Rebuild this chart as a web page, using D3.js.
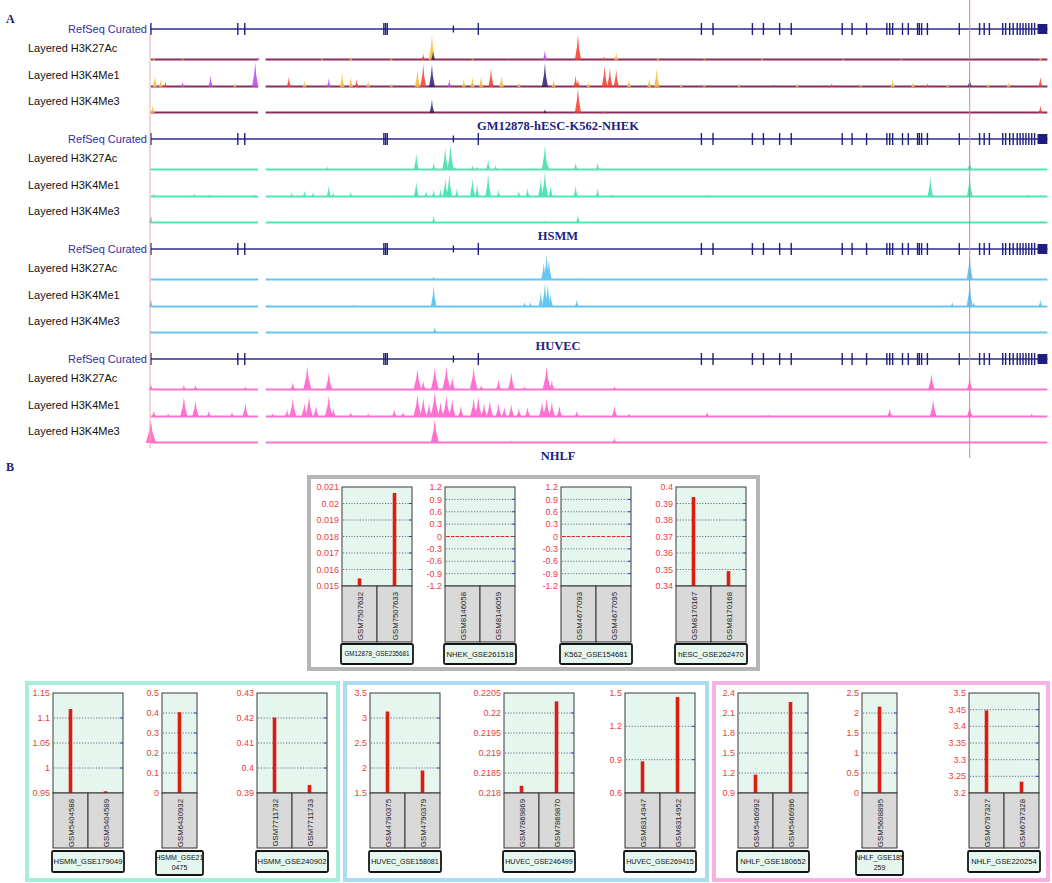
<!DOCTYPE html>
<html>
<head>
<meta charset="utf-8">
<script src="https://cdn.jsdelivr.net/npm/d3@7"></script>
<style>
  body { margin: 0; background: #fff; }
  svg { display: block; font-family: "Liberation Sans", Arial, sans-serif; }
</style>
</head>
<body>
<div id="fig"></div>
<script>
// ---------- panel A data (positions along the locus, arbitrary units 0..1560) ----------
const cellLines = ["GM12878-hESC-K562-NHEK", "HSMM", "HUVEC", "NHLF"];
const markLabels = ["Layered H3K27Ac", "Layered H3K4Me1", "Layered H3K4Me3"];
const geneSpan = [5, 1552];
const exons = [5, 155, 167, 407, 410, 413, 527, 570, 955, 975, 1043, 1062, 1090, 1110, 1198, 1215, 1240,
  1275, 1280, 1285, 1302, 1312, 1328, 1331, 1335, 1345, 1400, 1435, 1443, 1452, 1475, 1480, 1487,
  1493, 1500, 1505, 1510, 1515, 1520, 1525, 1530];
const shortExons = [527];
const geneEndBlock = [1535, 1552];
const coveredSpans = [[5, 190], [203, 1552]];
const markerPos = 1418;

// layered (mixed colour) tracks: [pos, height 0..1, colour key]
const mixK27 = [[10,0.08,"o"],[60,0.05,"o"],[190,0.12,"p"],[300,0.06,"o"],[350,0.12,"o"],[420,0.08,"o"],[475,0.25,"r"],
  [490,1.0,"o"],[492,0.35,"n"],[560,0.06,"o"],[620,0.06,"r"],[685,0.4,"p"],[742,1.0,"r"],[787,0.15,"r"],[808,0.3,"o"],
  [880,0.1,"o"],[960,0.06,"o"],[1060,0.06,"o"],[1200,0.05,"o"],[1300,0.05,"o"],[1418,0.08,"n"],[1540,0.1,"o"]];
const mixK4me1 = [[12,0.45,"o"],[22,0.3,"o"],[30,0.2,"r"],[60,0.2,"p"],[108,0.45,"p"],[150,0.12,"o"],[185,1.0,"p"],
  [243,0.4,"r"],[270,0.25,"o"],[312,0.35,"p"],[335,0.55,"o"],[350,0.4,"o"],[360,0.3,"r"],[380,0.25,"o"],[420,0.15,"o"],
  [465,0.7,"o"],[475,0.9,"r"],[490,0.9,"n"],[520,0.3,"p"],[545,0.3,"o"],[560,0.4,"o"],[575,0.45,"o"],[592,0.75,"r"],
  [610,0.45,"o"],[640,0.2,"o"],[685,0.95,"n"],[700,0.3,"o"],[738,0.45,"r"],[742,0.3,"r"],[760,0.2,"o"],[788,0.85,"r"],
  [797,0.75,"r"],[808,0.7,"r"],[830,0.3,"o"],[865,0.35,"o"],[878,0.75,"o"],[920,0.12,"o"],[960,0.1,"o"],[1020,0.1,"o"],
  [1080,0.1,"b"],[1120,0.12,"o"],[1180,0.15,"r"],[1230,0.1,"o"],[1285,0.3,"o"],[1320,0.2,"o"],[1345,0.15,"r"],
  [1380,0.15,"o"],[1418,0.35,"n"],[1450,0.15,"o"],[1485,0.2,"o"],[1540,0.4,"r"]];
const mixK4me3 = [[8,0.3,"o"],[490,0.55,"n"],[685,0.15,"n"],[742,1.0,"r"],[788,0.08,"r"],[1540,0.3,"r"]];

// single colour tracks: [pos, height 0..1, optional half width]
const hsmmK27 = [[5,0.05],[310,0.15],[463,0.65],[493,0.3],[513,0.9],[522,1.0],[530,0.15],[560,0.2],[568,0.15],
  [587,0.4],[600,0.2],[660,0.1],[685,1.0],[690,0.25],[738,0.3],[776,0.3],[1352,0.05],[1418,0.4]];
const hsmmK4me1 = [[10,0.15],[80,0.15],[105,0.1],[185,0.1],[248,0.2],[270,0.25],[285,0.2],[312,0.45],[320,0.2],
  [350,0.2],[463,0.6],[480,0.25],[493,0.3],[505,0.3],[513,0.75],[520,0.9],[533,0.35],[560,0.75],[568,0.5],[587,0.9],
  [605,0.3],[640,0.25],[655,0.35],[678,0.75],[685,1.0],[695,0.45],[738,0.45],[776,0.35],[800,0.1],[965,0.1],
  [1155,0.08],[1350,0.8],[1418,0.85],[1520,0.1],[1540,0.1]];
const hsmmK4me3 = [[5,0.35],[493,0.3],[685,0.1],[742,0.35],[1418,0.15],[1540,0.1]];

const huvecK27 = [[493,0.15],[683,0.7],[688,1.0],[692,0.8],[740,0.05],[1418,1.0],[1540,0.05]];
const huvecK4me1 = [[5,0.35],[355,0.1],[493,0.85],[650,0.2],[660,0.2],[678,0.6],[685,0.95],[690,0.9],[695,0.5],
  [740,0.3],[1388,0.2],[1418,1.0],[1425,0.2],[1540,0.3]];
const huvecK4me3 = [[5,0.1],[495,0.25],[685,0.08],[1418,0.15],[1540,0.1]];

const nhlfK27 = [[5,0.25],[62,0.2],[82,0.2],[168,0.15],[250,0.3],[275,0.95],[312,0.7],[465,0.85],[475,0.35],
  [495,0.9],[515,0.95],[525,0.5],[562,0.9],[575,0.2],[605,0.4],[627,0.7],[650,0.15],[688,0.95],[697,0.4],
  [805,0.15],[830,0.05],[1352,0.65],[1418,0.5]];
const nhlfK4me1 = [[10,0.25],[35,0.15],[62,0.8],[82,0.65],[105,0.25],[145,0.2],[168,0.55],[215,0.15],[240,0.3],
  [250,0.75],[270,0.55],[278,0.8],[290,0.45],[312,0.85],[320,0.35],[350,0.2],[380,0.15],[425,0.3],[440,0.2],
  [465,0.9],[475,0.75],[485,0.55],[495,1.0],[505,0.6],[515,0.85],[525,0.7],[540,0.45],[562,0.75],[570,0.8],
  [580,0.55],[590,0.65],[605,0.55],[615,0.4],[627,0.5],[640,0.35],[655,0.4],[680,0.6],[688,0.75],[697,0.6],
  [710,0.45],[740,0.25],[805,0.45],[830,0.15],[965,0.2],[1070,0.1],[1280,0.35],[1355,0.7],[1418,0.45],[1525,0.15]];
const nhlfK4me3 = [[5,0.9,9],[60,0.05],[168,0.05],[495,0.95],[565,0.05],[627,0.1],[805,0.2],[1352,0.05],[1418,0.1]];

const trackSets = [
  [mixK27, mixK4me1, mixK4me3],
  [hsmmK27, hsmmK4me1, hsmmK4me3],
  [huvecK27, huvecK4me1, huvecK4me3],
  [nhlfK27, nhlfK4me1, nhlfK4me3]
];

// ---------- panel B data ----------
const datasetNames = ["GM12878_GSE235681", "NHEK_GSE261518", "K562_GSE154681", "hESC_GSE262470",
  "HSMM_GSE179049", "HSMM_GSE210475", "HSMM_GSE240902",
  "HUVEC_GSE158081", "HUVEC_GSE246499", "HUVEC_GSE269415",
  "NHLF_GSE180652", "NHLF_GSE185259", "NHLF_GSE220254"];
// where the narrow (one sample) name boxes wrap their text
const nameWrapAt = { "HSMM_GSE210475": 10, "NHLF_GSE185259": 11 };
const sampleIds = [["GSM7507632","GSM7507633"],["GSM8146058","GSM8146059"],["GSM4677093","GSM4677095"],
  ["GSM8170167","GSM8170168"],["GSM5404588","GSM5404589"],["GSM6430932"],["GSM7711732","GSM7711733"],
  ["GSM4790375","GSM4790379"],["GSM7869869","GSM7869870"],["GSM8314947","GSM8314952"],
  ["GSM5466992","GSM5466996"],["GSM5608895"],["GSM6797327","GSM6797328"]];
const sampleValues = [[0.01546, 0.02064], [0, 0], [0, 0], [0.3939, 0.349], [1.118, 0.9534], [0.404],
  [0.4202, 0.3932], [3.13, 1.95], [0.21818, 0.22029], [0.885, 1.464], [1.175, 2.265], [2.16], [3.448, 3.234]];
const yTickValues = [
  [0.015, 0.016, 0.017, 0.018, 0.019, 0.02, 0.021],
  [-1.2, -0.9, -0.6, -0.3, 0, 0.3, 0.6, 0.9, 1.2],
  [-1.2, -0.9, -0.6, -0.3, 0, 0.3, 0.6, 0.9, 1.2],
  [0.34, 0.35, 0.36, 0.37, 0.38, 0.39, 0.4],
  [0.95, 1, 1.05, 1.1, 1.15],
  [0, 0.1, 0.2, 0.3, 0.4, 0.5],
  [0.39, 0.4, 0.41, 0.42, 0.43],
  [1.5, 2, 2.5, 3, 3.5],
  [0.218, 0.2185, 0.219, 0.2195, 0.22, 0.2205],
  [0.6, 0.9, 1.2, 1.5],
  [0.9, 1.2, 1.5, 1.8, 2.1, 2.4],
  [0, 0.5, 1, 1.5, 2, 2.5],
  [3.2, 3.25, 3.3, 3.35, 3.4, 3.45, 3.5]
];

// ---------- layout ----------
const W = 1052, H = 883;
const svg = d3.select("#fig").append("svg").attr("width", W).attr("height", H);

const pos = d3.scaleLinear().domain([0, 1560]).range([148, 1052]);
const mixColors = { o: "#f9b835", r: "#f2392c", p: "#b946ee", n: "#2b1b6e", b: "#3a46d8" };
const blockColors = [null, "#52e3b8", "#62c8f3", "#ff72cf"];
const trackOffsets = [31, 58, 84];
const trackH = 25;

svg.append("text").attr("x", 6).attr("y", 23)
  .attr("font-family", "Liberation Serif, serif").attr("font-weight", "bold")
  .attr("font-size", 12).attr("fill", "#1c1c6e").text("A");
svg.append("text").attr("x", 6).attr("y", 471)
  .attr("font-family", "Liberation Serif, serif").attr("font-weight", "bold")
  .attr("font-size", 12).attr("fill", "#1c1c6e").text("B");

cellLines.forEach((name, i) => {
  const gy = 29 + 110 * i;
  const g = svg.append("g");

  g.append("text").attr("x", 147).attr("y", gy + 4).attr("text-anchor", "end")
    .attr("font-size", 11).attr("fill", "#2e2e9e").text("RefSeq Curated");

  g.append("line")
    .attr("x1", pos(geneSpan[0])).attr("x2", pos(geneSpan[1]))
    .attr("y1", gy).attr("y2", gy)
    .attr("stroke", "#2c2c8c").attr("stroke-width", 1.3);

  g.selectAll(".exon").data(exons).join("line")
    .attr("x1", d => pos(d)).attr("x2", d => pos(d))
    .attr("y1", d => gy - (shortExons.includes(d) ? 3.5 : 6))
    .attr("y2", d => gy + (shortExons.includes(d) ? 3.5 : 6))
    .attr("stroke", "#1e1e80").attr("stroke-width", 1.4);

  g.append("rect")
    .attr("x", pos(geneEndBlock[0])).attr("y", gy - 5)
    .attr("width", pos(geneEndBlock[1]) - pos(geneEndBlock[0])).attr("height", 10)
    .attr("fill", "#1e1e80");

  trackSets[i].forEach((peaks, j) => {
    const by = gy + trackOffsets[j];
    const y = d3.scaleLinear().domain([0, 1]).range([by, by - trackH]);

    g.append("text").attr("x", 28).attr("y", by - 8)
      .attr("font-size", 11).attr("fill", "#111").text(markLabels[j]);

    const baseColor = i === 0 ? "#8a2c5c" : blockColors[i];
    g.selectAll(".span" + j).data(coveredSpans).join("line")
      .attr("x1", d => pos(d[0])).attr("x2", d => pos(d[1]))
      .attr("y1", by - 0.5).attr("y2", by - 0.5)
      .attr("stroke", baseColor).attr("stroke-width", 1.8);

    const spike = d3.line().x(d => pos(d[0])).y(d => y(d[1]));
    g.selectAll(".peak" + j).data(peaks).join("path")
      .attr("d", d => {
        const hw = typeof d[2] === "number" ? d[2] : (i === 3 ? 3 + 4.5 * d[1] : 2.5 + 3 * d[1]);
        return spike([[d[0] - hw, 0], [d[0] - hw * 0.3, d[1] * 0.55], [d[0], d[1]], [d[0] + hw * 0.3, d[1] * 0.5], [d[0] + hw, 0]]);
      })
      .attr("fill", d => i === 0 ? mixColors[d[2]] : blockColors[i])
      .attr("fill-opacity", i === 0 ? 0.85 : 1)
      .attr("stroke", "none");
  });

  g.append("text").attr("x", 558).attr("y", gy + 101).attr("text-anchor", "middle")
    .attr("font-family", "Liberation Serif, serif").attr("font-weight", "bold")
    .attr("font-size", 12.5).attr("fill", "#1c237e").text(name);
});

// locus edge and marker lines
svg.append("line").attr("x1", 150).attr("x2", 150).attr("y1", 34).attr("y2", 448)
  .attr("stroke", "#f6a5a5").attr("stroke-width", 1);
svg.append("line").attr("x1", pos(markerPos)).attr("x2", pos(markerPos)).attr("y1", 0).attr("y2", 458)
  .attr("stroke", "#f07c7c").attr("stroke-width", 1);

// ---------- panel B ----------
const frames = [
  { x: 309, y: 477, w: 449, h: 192, color: "#b5b5b5" },
  { x: 27, y: 683, w: 311, h: 197, color: "#a6eedb" },
  { x: 345, y: 683, w: 362, h: 197, color: "#a9dcf5" },
  { x: 714, y: 683, w: 334, h: 197, color: "#f6b2e3" }
];
svg.selectAll(".frame").data(frames).join("rect")
  .attr("x", d => d.x).attr("y", d => d.y).attr("width", d => d.w).attr("height", d => d.h)
  .attr("fill", "none").attr("stroke", d => d.color).attr("stroke-width", 4);

const chartLeft = [342, 445, 561, 676, 53, 162, 257, 370, 504, 625, 738, 862, 969];
const chartRow = [0, 0, 0, 0, 1, 1, 1, 1, 1, 1, 1, 1, 1];
const rowGeom = [
  { plotTop: 487, plotBottom: 586, labelBottom: 642, nameTop: 644, nameBottom: 664 },
  { plotTop: 693, plotBottom: 793, labelBottom: 848, nameTop: 851, nameBottom: 872 }
];
const colW = 35;
const fmt = t => String(+t.toFixed(6));

datasetNames.forEach((name, k) => {
  const rg = rowGeom[chartRow[k]];
  const ids = sampleIds[k];
  const vals = sampleValues[k];
  const ticks = yTickValues[k];
  const left = chartLeft[k];
  const w = colW * ids.length;
  const g = svg.append("g");

  const y = d3.scaleLinear().domain(d3.extent(ticks)).range([rg.plotBottom, rg.plotTop]);
  const x = d3.scaleBand().domain(ids).range([left, left + w]);

  g.append("rect").attr("x", left).attr("y", rg.plotTop).attr("width", w)
    .attr("height", rg.plotBottom - rg.plotTop)
    .attr("fill", "#e5f6ef").attr("stroke", "#3a3a3a").attr("stroke-width", 1);

  const inner = ticks.slice(1, -1);
  g.selectAll(".grid").data(inner).join("line")
    .attr("x1", left + 1).attr("x2", left + w - 1)
    .attr("y1", d => y(d)).attr("y2", d => y(d))
    .attr("stroke", "#50506a").attr("stroke-width", 0.8).attr("stroke-dasharray", "1.2,1.6");
  g.selectAll(".rtick").data(inner).join("line")
    .attr("x1", left + w - 3).attr("x2", left + w)
    .attr("y1", d => y(d)).attr("y2", d => y(d))
    .attr("stroke", "#2a40d0").attr("stroke-width", 1);

  g.selectAll(".ylab").data(ticks).join("text")
    .attr("x", left - 3).attr("y", d => y(d)).attr("dy", "0.35em")
    .attr("text-anchor", "end").attr("font-size", 9).attr("fill", "#f03c3c")
    .text(fmt);

  if (vals.every(v => v === 0)) {
    g.append("line").attr("x1", left + 1).attr("x2", left + w - 1)
      .attr("y1", y(0)).attr("y2", y(0))
      .attr("stroke", "#e0281c").attr("stroke-width", 1.2).attr("stroke-dasharray", "3,2");
  } else {
    g.selectAll(".bar").data(vals).join("rect")
      .attr("x", (d, i) => x(ids[i]) + x.bandwidth() / 2 - 1.8)
      .attr("y", d => y(d))
      .attr("width", 3.6)
      .attr("height", d => y.range()[0] - y(d))
      .attr("fill", "#dd1d10");
  }

  // sample label boxes
  g.selectAll(".sbox").data(ids).join("rect")
    .attr("x", d => x(d)).attr("y", rg.plotBottom)
    .attr("width", x.bandwidth()).attr("height", rg.labelBottom - rg.plotBottom)
    .attr("fill", "#d9d9d9").attr("stroke", "#333").attr("stroke-width", 1);
  g.selectAll(".slab").data(ids).join("text")
    .attr("transform", d => `translate(${x(d) + x.bandwidth() / 2 + 3},${rg.plotBottom + 6}) rotate(-90)`)
    .attr("text-anchor", "end").attr("font-size", 7.8).attr("fill", "#222")
    .text(d => d);

  // dataset name box
  const single = ids.length === 1;
  const pad = single ? 6 : 1;
  g.append("rect").attr("x", left - pad).attr("y", rg.nameTop)
    .attr("width", w + 2 * pad).attr("height", rg.nameBottom - rg.nameTop + (single ? 3 : 0)).attr("rx", 1.5)
    .attr("fill", "#e5f6ef").attr("stroke", "#151515").attr("stroke-width", 1.8);
  const cx = left + w / 2;
  if (single) {
    const cut = nameWrapAt[name] || 10;
    const lines = [name.slice(0, cut), name.slice(cut)];
    g.selectAll(".nlab").data(lines).join("text")
      .attr("x", cx).attr("y", (d, i) => rg.nameTop + 9 + i * 10)
      .attr("text-anchor", "middle").attr("font-size", 7).attr("fill", "#111")
      .text(d => d);
  } else {
    const fs = Math.min(8.2, (w - 6) / (name.length * 0.6));
    g.append("text").attr("x", cx).attr("y", (rg.nameTop + rg.nameBottom) / 2).attr("dy", "0.35em")
      .attr("text-anchor", "middle").attr("font-size", fs).attr("fill", "#111").text(name);
  }
});
</script>
</body>
</html>
